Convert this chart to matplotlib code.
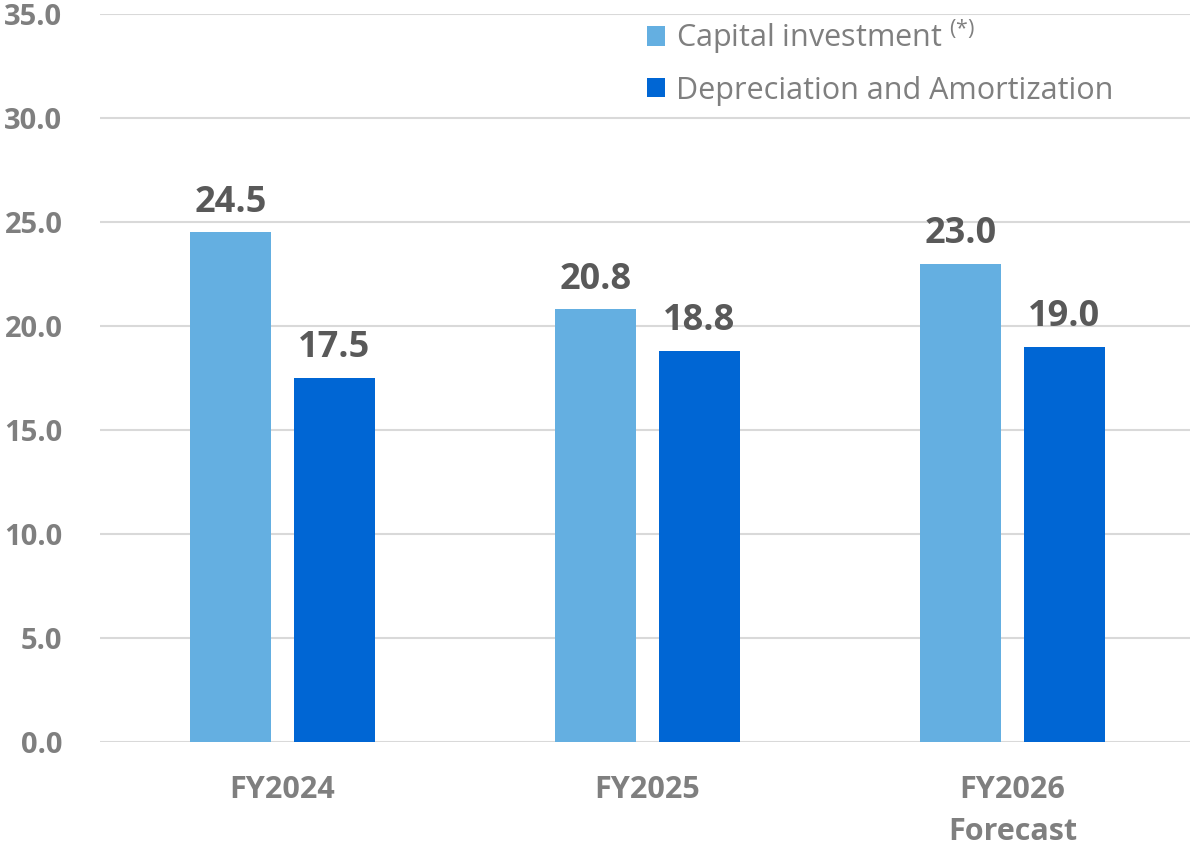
import matplotlib
matplotlib.use("Agg")
import matplotlib.pyplot as plt
import numpy as np

categories = ["FY2024", "FY2025", "FY2026\nForecast"]
capital_investment = [24.5, 20.8, 23.0]
depreciation = [17.5, 18.8, 19.0]
series_names = ["Capital investment $^{(*)}$", "Depreciation and Amortization"]
yticks = [0, 5, 10, 15, 20, 25, 30, 35]

FONT = "Open Sans"
plt.rcParams["font.family"] = [FONT, "DejaVu Sans"]
plt.rcParams["mathtext.fontset"] = "custom"
plt.rcParams["mathtext.rm"] = FONT
plt.rcParams["mathtext.it"] = FONT

light = "#64AFE1"
dark = "#0066D4"
tick_col = "#7F7F7F"
lab_col = "#595959"

fig = plt.figure(figsize=(11.90, 8.46), dpi=100)
ax = fig.add_axes([100/1190, 104/846, 1090/1190, 728/846])

x = np.arange(len(categories))
w = 0.222
off = 0.142
b1 = ax.bar(x - off, capital_investment, w, color=light, label=series_names[0], zorder=3)
b2 = ax.bar(x + off, depreciation, w, color=dark, label=series_names[1], zorder=3)

for bars, vals in ((b1, capital_investment), (b2, depreciation)):
    for r, v in zip(bars, vals):
        ax.annotate(f"{v:.1f}", (r.get_x() + r.get_width()/2, v), xytext=(0, 8.5),
                    textcoords="offset points", ha="center", va="bottom",
                    fontsize=26, fontweight="bold", color=lab_col)

ax.set_xlim(-0.5, 2.486)
ax.set_ylim(0, 35)
ax.set_yticks(yticks)
ax.set_yticklabels([f"{t:.1f}" for t in yticks])
ax.set_xticks(x)
ax.set_xticklabels(categories, linespacing=1.52)
ax.tick_params(axis="both", length=0, colors=tick_col)
ax.tick_params(axis="y", pad=27, labelsize=21)
ax.tick_params(axis="x", pad=24, labelsize=22)
for lab in ax.get_xticklabels() + ax.get_yticklabels():
    lab.set_fontweight("bold")
    lab.set_color(tick_col)

ax.grid(axis="y", color="#D9D9D9", linewidth=1.5, zorder=0)
for s in ax.spines.values():
    s.set_visible(False)

leg = ax.legend(loc="upper left", bbox_to_anchor=(519/1090, 1.034), frameon=False,
                fontsize=22, handlelength=0.59, handleheight=0.59, handletextpad=0.39,
                labelspacing=0.65, labelcolor=tick_col)

fig.savefig("out.png", dpi=100)
